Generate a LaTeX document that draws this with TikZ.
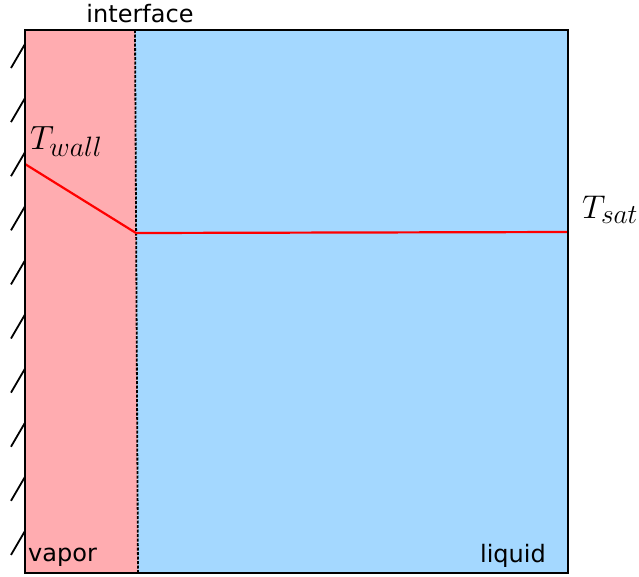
\documentclass[tikz,border=0pt]{standalone}
\usepackage{fontspec}
\setsansfont{DejaVu Sans}
\definecolor{vapcol}{RGB}{255,172,176}
\definecolor{liqcol}{RGB}{164,216,255}
\definecolor{tline}{RGB}{255,0,0}
\begin{document}
\begin{tikzpicture}[x=1pt,y=-1pt,
  lbl/.style={font=\sffamily\fontsize{24}{24}\selectfont, inner sep=0pt},
  mlbl/.style={font=\fontsize{28}{28}\selectfont, inner sep=0pt},
  hatch/.style={line width=1.8pt, black},
  templine/.style={line width=2.2pt, tline}]
\useasboundingbox (0,0) rectangle (639,576);
\coordinate (tl) at (25,30);
\coordinate (tr) at (568,30);
\coordinate (br) at (568,573);
\coordinate (bl) at (25,573);
\coordinate (it) at (135,30);
\coordinate (ib) at (138,573);
\fill[vapcol] (tl) -- (it) -- (ib) -- (bl) -- cycle;
\fill[liqcol] (it) -- (tr) -- (br) -- (ib) -- cycle;
\draw[black, line width=1.8pt, dash pattern=on 3pt off 1.5pt] (it) -- (ib);
\coordinate (w) at (25,164);
\coordinate (i) at (136,233);
\coordinate (s) at (568,232);
\draw[templine] (w) -- (i) -- (s);
\draw[black, line width=1.8pt] (tl) rectangle (br);
\foreach \k in {0,...,9}{
  \draw[hatch] (25,{68+54.1*\k-24}) -- (11,{68+54.1*\k});
}
\node[lbl, anchor=base] (interface) at (140,22) {interface};
\node[lbl, anchor=base west] (vapor) at (28,561) {vapor};
\node[lbl, anchor=base east] (liquid) at (546,562) {liquid};
\node[mlbl, anchor=base west] (twall) at (30,149) {\scalebox{1.35}{$T_{wall}$}};
\node[mlbl, anchor=base west] (tsat) at (582,218) {\scalebox{1.32}{$T_{sat}$}};
\end{tikzpicture}
\end{document}
